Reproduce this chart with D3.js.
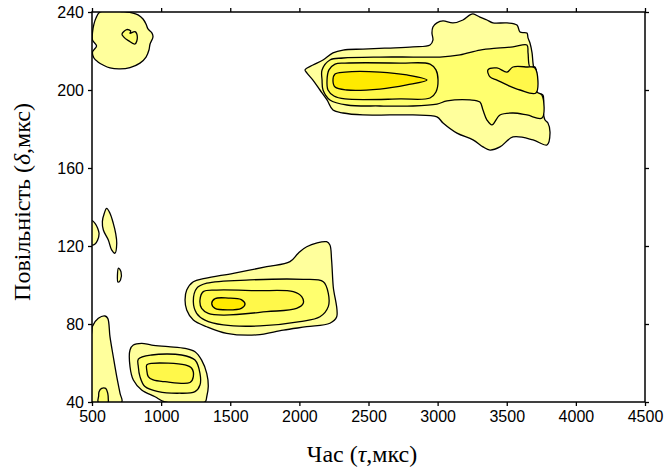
<!DOCTYPE html>
<html>
<head>
<meta charset="utf-8">
<script src="https://cdn.jsdelivr.net/npm/d3@7"></script>
<style>
  body { margin: 0; background: #fff; }
  .tick text { font-family: "Liberation Sans", Arial, sans-serif; font-size: 16px; fill: #000; }
  .title { font-family: "Liberation Serif", "Times New Roman", serif; font-size: 24px; fill: #000; }
</style>
</head>
<body>
<div id="chart"></div>
<script>
const width = 665;
const height = 469;

const x_ticks = [500, 1000, 1500, 2000, 2500, 3000, 3500, 4000, 4500];
const y_ticks = [40, 80, 120, 160, 200, 240];

// contour rings, [tau, delta]
// top-left blob
const a_l1 = [[558,240],[529,236.9],[514,233.8],[504,229.7],[504,225.6],[533,222.6],[504,219.5],[514,216.4],[543,214.4],[580,212.8],[630,211.3],[703,210.8],[775,211.5],[847,213.8],[891,216.9],[912,220.5],[920,223.6],[941,227.2],[934,229.2],[905,231.3],[891,233.8],[869,236.4],[833,238.5],[789,239.6],[753,240]];
const a_l2 = [[717,228.7],[751,231],[780,230.3],[775,229.1],[811,229.9],[828,227],[811,223.6],[763,225.3],[727,227.4]];
// small blobs near the left axis
const s1_l1 = [[500,133],[522,131.6],[541,129.1],[551,126.5],[541,123.1],[522,121],[500,120.5]];
const s2_l1 = [[606,139.3],[630,136.8],[654,131.6],[671,126.5],[679,121.4],[666,116.3],[642,118],[618,123.1],[582,128.2],[575,132.5],[589,136.8]];
const s3_l1 = [[692,108.7],[710,106.7],[706,102.6],[688,101.5],[684,105]];
// bottom-left blob
const c_l1 = [[500,40],[500,77.5],[502,78.6],[546,82.9],[594,84.1],[614,82.9],[630,73.5],[654,63.2],[679,53],[703,44.4],[715,40]];
const c_l2 = [[545,40],[548,43],[551,45.3],[570,47],[599,47],[614,44.4],[618,41],[618,40]];
// blob around (1000, 55)
const d_l1 = [[775,66.7],[799,69.2],[859,70.1],[932,69.2],[1052,68.4],[1173,67.5],[1245,65.8],[1293,61.5],[1330,54.7],[1341,47.9],[1330,42.7],[1317,40],[1028,40],[956,42.7],[859,46.2],[799,51.3],[775,58.1]];
const d_l2 = [[835,62],[932,64.1],[1148,64.1],[1245,61.5],[1281,54.7],[1281,48.7],[1245,45.3],[1124,44.5],[980,45.3],[883,47.9],[847,53],[835,58.1]];
const d_l3 = [[896,59],[932,59.8],[1173,59],[1221,57.3],[1233,53],[1209,50],[1028,50.4],[943,51.3],[907,53],[896,56.4]];
// middle blob
const e_l1 = [[1173,92.3],[1185,97.4],[1233,101.7],[1317,103.4],[1522,106],[1764,109.4],[1932,112],[1992,116.3],[2053,119.6],[2197,122.2],[2221,120.5],[2233,112.8],[2245,99.1],[2270,83.7],[2221,80.4],[2053,78.6],[1884,76.9],[1691,74.4],[1474,75.2],[1330,78.6],[1233,82],[1185,87.2]];
const e_l2 = [[1233,91.4],[1257,98.3],[1330,100.9],[1643,102.6],[2028,102.9],[2173,101.7],[2209,95.8],[2209,88.9],[2149,83.7],[2004,81.2],[1715,79],[1450,79.5],[1317,82],[1257,85.5]];
const e_l3 = [[1281,92.3],[1305,96.6],[1402,97.4],[1691,97.1],[1956,96.6],[2017,94],[2028,90.6],[1980,88],[1764,86.3],[1450,84.6],[1341,85.5],[1293,88]];
const e_l4 = [[1366,90.5],[1390,93],[1486,93.3],[1580,92.5],[1607,90.2],[1580,88],[1486,87.2],[1390,88]];
// top-right blob
const b_l1 = [[2041,210.3],[2098,212.8],[2171,215.4],[2243,219],[2316,220.5],[2460,221],[2634,221.5],[2822,222.1],[2945,223.1],[2966,225.6],[2959,229.2],[2966,232.3],[2995,234.4],[3039,235.4],[3111,234.4],[3183,235.9],[3234,238.5],[3256,239],[3306,237.4],[3357,235.9],[3400,234.4],[3502,234.4],[3574,233.3],[3596,229.7],[3646,229.2],[3654,226.7],[3668,224.1],[3683,219],[3690,213.8],[3704,206.7],[3719,198.5],[3762,197.4],[3762,189.7],[3777,184.6],[3798,183.1],[3813,177.9],[3791,171.8],[3690,174.4],[3545,175.9],[3451,170.8],[3379,169.2],[3328,170.8],[3256,174.4],[3140,177.9],[3039,183.1],[2995,186.2],[2822,187.2],[2655,187.2],[2460,187.2],[2316,188.2],[2243,189.7],[2200,194.9],[2149,200],[2098,205.1],[2055,208.7]];
const b_l2 = [[2164,210.3],[2221,215.4],[2316,216.4],[2583,216.9],[2822,216.9],[3017,216.9],[3162,218],[3306,220.5],[3429,221.5],[3545,222.1],[3646,223.1],[3654,219],[3668,211.8],[3704,211.8],[3719,205.1],[3719,199],[3755,197.4],[3755,185.6],[3646,187.2],[3545,188.2],[3451,187.2],[3393,182.1],[3357,184.6],[3328,189.7],[3306,193.8],[3234,194.9],[3068,194.4],[2995,192.8],[2822,191.8],[2583,191.8],[2344,192.3],[2221,194.9],[2171,200],[2164,205.1]];
const b_l3 = [[2200,205.1],[2214,210.3],[2258,213.3],[2330,213.8],[2728,213.8],[2945,213.3],[2988,210.3],[3003,205.1],[2988,199],[2945,195.9],[2728,195.4],[2330,195.4],[2250,196.9],[2207,200]];
const b_l3b = [[3364,210.3],[3429,211.3],[3502,209.2],[3545,211.8],[3646,211.8],[3704,211.3],[3711,198.5],[3596,200],[3502,202.6],[3429,205.1],[3379,206.7]];
const b_l4 = [[2243,205.1],[2258,208.2],[2330,209.2],[2583,209.2],[2778,207.7],[2923,205.1],[2778,202.6],[2583,200.5],[2344,200],[2258,201.5]];

const level_colors = ["#ffff9c", "#ffff6e", "#fff84a", "#ffea00"];

const rings = [
  {pts: a_l1, level: 0}, {pts: s1_l1, level: 0}, {pts: s2_l1, level: 0}, {pts: s3_l1, level: 0},
  {pts: c_l1, level: 0}, {pts: d_l1, level: 0}, {pts: e_l1, level: 0}, {pts: b_l1, level: 0},
  {pts: a_l2, level: 1}, {pts: c_l2, level: 1}, {pts: d_l2, level: 1}, {pts: e_l2, level: 1}, {pts: b_l2, level: 1},
  {pts: d_l3, level: 2}, {pts: e_l3, level: 2}, {pts: b_l3, level: 2}, {pts: b_l3b, level: 2},
  {pts: e_l4, level: 3}, {pts: b_l4, level: 3}
];

const svg = d3.select("#chart").append("svg")
  .attr("width", width)
  .attr("height", height);

const xScale = d3.scaleLinear().domain([500, 4500]).range([92, 645]);
const yScale = d3.scaleLinear().domain([40, 240]).range([402, 12]);

svg.append("clipPath").attr("id", "plot_clip")
  .append("rect")
  .attr("x", xScale(500)).attr("y", yScale(240))
  .attr("width", xScale(4500) - xScale(500))
  .attr("height", yScale(40) - yScale(240));

const line = d3.line()
  .x(d => xScale(d[0]))
  .y(d => yScale(d[1]))
  .curve(d3.curveCatmullRomClosed.alpha(0.5));

svg.append("g")
  .attr("clip-path", "url(#plot_clip)")
  .selectAll("path")
  .data(rings)
  .enter().append("path")
    .attr("d", d => line(d.pts))
    .attr("fill", d => level_colors[d.level])
    .attr("stroke", "#000")
    .attr("stroke-width", 1.3)
    .attr("stroke-linejoin", "round");

// axes
const fmt = d3.format("d");
svg.append("g")
  .attr("transform", "translate(0," + yScale(40) + ")")
  .call(d3.axisBottom(xScale).tickValues(x_ticks).tickFormat(fmt).tickSize(4).tickSizeOuter(0).tickPadding(5));
svg.append("g")
  .attr("transform", "translate(" + xScale(500) + ",0)")
  .call(d3.axisLeft(yScale).tickValues(y_ticks).tickFormat(fmt).tickSize(4).tickSizeOuter(0).tickPadding(4));
svg.append("g")
  .attr("transform", "translate(0," + yScale(240) + ")")
  .call(d3.axisTop(xScale).tickValues(x_ticks).tickFormat("").tickSize(4).tickSizeOuter(0));
svg.append("g")
  .attr("transform", "translate(" + xScale(4500) + ",0)")
  .call(d3.axisRight(yScale).tickValues(y_ticks).tickFormat("").tickSize(4).tickSizeOuter(0));

svg.selectAll(".domain").remove();
svg.selectAll(".tick line").attr("stroke", "#000").attr("stroke-width", 1.3);

svg.append("rect")
  .attr("x", xScale(500)).attr("y", yScale(240))
  .attr("width", xScale(4500) - xScale(500))
  .attr("height", yScale(40) - yScale(240))
  .attr("fill", "none")
  .attr("stroke", "#000")
  .attr("stroke-width", 1.5);

// axis titles
const xt = svg.append("text").attr("class", "title")
  .attr("x", 362)
  .attr("y", 462)
  .attr("text-anchor", "middle");
xt.append("tspan").text("Час (");
xt.append("tspan").attr("font-style", "italic").text("τ");
xt.append("tspan").text(",мкс)");

const yt = svg.append("text").attr("class", "title")
  .attr("transform", "translate(30,202) rotate(-90)")
  .attr("text-anchor", "middle");
yt.append("tspan").text("Повільність (");
yt.append("tspan").attr("font-style", "italic").text("δ");
yt.append("tspan").text(",мкс)");
</script>
</body>
</html>
